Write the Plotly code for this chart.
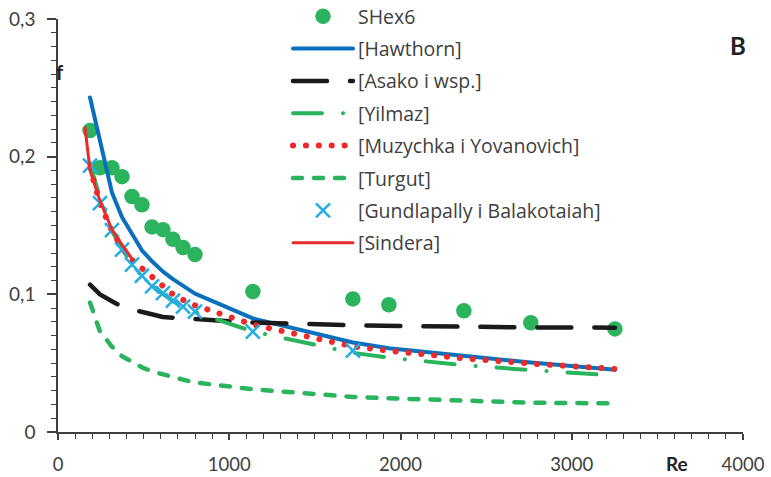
import plotly.graph_objects as go

# ---- data ----
re = [187, 245, 315, 374, 432, 490, 549, 613, 671, 730, 800, 1138, 1722, 1932, 2370, 2761, 3252]
shex6 = [0.219, 0.192, 0.192, 0.1855, 0.171, 0.165, 0.149, 0.147, 0.140, 0.134, 0.129,
         0.102, 0.0967, 0.0924, 0.088, 0.0793, 0.0749]
hawthorn = [0.243, 0.211, 0.174, 0.156, 0.1435, 0.132, 0.124, 0.1165, 0.111, 0.106, 0.1005,
            0.0825, 0.065, 0.0608, 0.0552, 0.0505, 0.0452]
asako = [0.107, 0.100, 0.095, 0.091, 0.089, 0.087, 0.085, 0.0835, 0.083, 0.0825, 0.082,
         0.0795, 0.0775, 0.077, 0.0765, 0.076, 0.0758]
yilmaz = [0.195, 0.170, 0.146, 0.133, 0.122, 0.113, 0.106, 0.100, 0.095, 0.091, 0.087,
          0.073, 0.0575, 0.054, 0.0485, 0.045, 0.041]
muzychka = [0.192, 0.166, 0.146, 0.134, 0.125, 0.119, 0.112, 0.1055, 0.100, 0.096, 0.092,
            0.078, 0.0622, 0.059, 0.0535, 0.0497, 0.0458]
turgut = [0.094, 0.073, 0.062, 0.055, 0.051, 0.047, 0.044, 0.0415, 0.040, 0.038, 0.036,
          0.031, 0.0255, 0.0245, 0.0225, 0.0213, 0.0208]
re_gund = re[:13]
gundlapally = [0.1935, 0.1663, 0.1467, 0.1324, 0.1215, 0.1135, 0.1057, 0.1009, 0.0955,
               0.0911, 0.0875, 0.0729, 0.0591]
re_sindera = [158, 187, 245, 315, 374, 437]
sindera = [0.221, 0.190, 0.168, 0.147, 0.136, 0.125]

GREEN = "#2bb35e"
BLUE = "#0a70bd"
BLACK = "#1a1a1a"
RED = "#ed2a2a"
LBLUE = "#22aee6"
TXT = "#404040"
FONT = "Lato"
LFONT = "Open Sans"

fig = go.Figure()

fig.add_trace(go.Scatter(x=re, y=shex6, mode="markers", name="SHex6", legendrank=1,
                         legendgroup="a",
                         marker=dict(symbol="circle", size=15.5, color=GREEN)))
fig.add_trace(go.Scatter(x=re, y=hawthorn, mode="lines", name="[Hawthorn]", legendrank=2,
                         legendgroup="b",
                         line=dict(color=BLUE, width=4)))
fig.add_trace(go.Scatter(x=re, y=asako, mode="lines", name="[Asako i wsp.]", legendrank=3,
                         legendgroup="c",
                         line=dict(color=BLACK, width=4.5, dash="34px,23px")))
fig.add_trace(go.Scatter(x=re, y=yilmaz, mode="lines", name="[Yilmaz]", legendrank=4,
                         legendgroup="d",
                         line=dict(color=GREEN, width=4, dash="29px,21px,0.1px,21px")))
fig.add_trace(go.Scatter(x=re, y=turgut, mode="lines", name="[Turgut]", legendrank=6,
                         legendgroup="f",
                         line=dict(color=GREEN, width=4.5, dash="9px,12px")))
fig.add_trace(go.Scatter(x=re, y=muzychka, mode="lines", name="[Muzychka i Yovanovich]",
                         legendrank=5, legendgroup="e",
                         line=dict(color=RED, width=6, dash="0.1px,12.8px")))
fig.add_trace(go.Scatter(x=re_gund, y=gundlapally, mode="markers",
                         name="[Gundlapally i Balakotaiah]", legendrank=7, legendgroup="g",
                         marker=dict(symbol="x-thin", size=14, color=LBLUE,
                                     line=dict(color=LBLUE, width=2.5))))
fig.add_trace(go.Scatter(x=re_sindera, y=sindera, mode="lines", name="[Sindera]",
                         legendrank=8, legendgroup="h",
                         line=dict(color=RED, width=3)))

legend_cfg = dict(xref="paper", yref="paper", x=(288 - 58) / 685, y=1 + 22 / 413,
                  xanchor="left", yanchor="top", bgcolor="rgba(0,0,0,0)",
                  font=dict(family=LFONT, size=19.5, color=TXT),
                  itemwidth=60, tracegroupgap=4, traceorder="grouped")

fig.update_layout(
    width=771, height=477,
    margin=dict(l=58, r=28, t=19, b=45, pad=0, autoexpand=False),
    paper_bgcolor="white", plot_bgcolor="white",
    separators=", ",
    font=dict(family=FONT, size=19, color=TXT),
    showlegend=True,
    legend=legend_cfg,
    xaxis=dict(range=[0, 4000], dtick=1000, tick0=0, showgrid=False, zeroline=False,
               showline=True, linecolor=TXT, linewidth=1.5,
               ticks="outside", ticklen=6, tickwidth=1.5, tickcolor=TXT,
               ticklabelstandoff=9, tickangle=0,
               minor=dict(dtick=100, ticks="outside", ticklen=5, tickwidth=1.2,
                          tickcolor=TXT, showgrid=False),
               tickfont=dict(family=FONT, size=18.5, color=TXT)),
    yaxis=dict(range=[0, 0.3], dtick=0.1, tick0=0, showgrid=False, zeroline=False,
               showline=True, linecolor=TXT, linewidth=1.5,
               ticks="outside", ticklen=9, tickwidth=1.5, tickcolor=TXT,
               ticklabelstandoff=8,
               minor=dict(dtick=0.01, ticks="outside", ticklen=5, tickwidth=1.2,
                          tickcolor=TXT, showgrid=False),
               tickfont=dict(family=FONT, size=19, color=TXT)),
    annotations=[
        dict(text="<b>f</b>", xref="paper", yref="paper", x=(60 - 58) / 685,
             y=(432 - 72) / 413, showarrow=False, xanchor="center", yanchor="middle",
             font=dict(family=FONT, size=20, color="#222")),
        dict(text="<b>Re</b>", xref="paper", yref="paper", x=(677 - 58) / 685,
             y=(432 - 463) / 413, showarrow=False, xanchor="center", yanchor="middle",
             font=dict(family=FONT, size=19, color="#222")),
        dict(text="<b>B</b>", xref="paper", yref="paper", x=(738 - 58) / 685,
             y=(432 - 45) / 413, showarrow=False, xanchor="center", yanchor="middle",
             font=dict(family=FONT, size=24, color="#222")),
    ],
)

# allow the legend to be taller than half the figure (newer plotly versions)
try:
    fig.update_layout(legend_maxheight=1.0)
except Exception:
    fig.update_layout(legend_y=1.0)

js = """
var gd = document.getElementById('{plot_id}');
function roundCaps(){
  gd.querySelectorAll('path.js-line').forEach(function(p){
    p.style.strokeLinecap = 'round';
    p.style.strokeLinejoin = 'round';
  });
}
roundCaps();
gd.on('plotly_afterplot', roundCaps);
"""

fig.write_html("out.html", post_script=js)
